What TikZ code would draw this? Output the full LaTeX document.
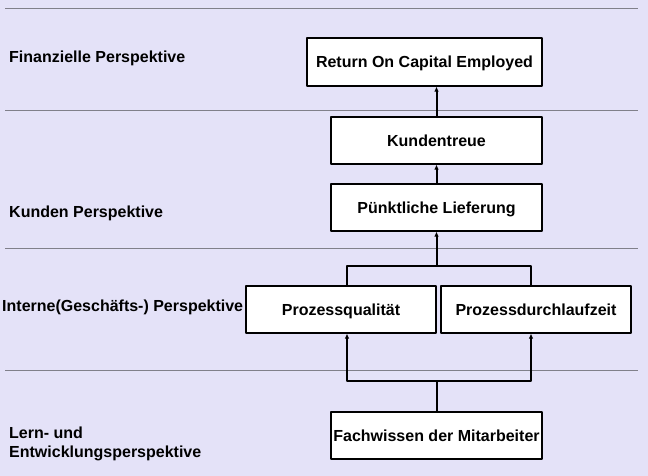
\documentclass[tikz,border=0pt]{standalone}
\usepackage{fontspec}
\setmainfont{Liberation Sans}
\usetikzlibrary{arrows.meta}
\definecolor{bglav}{RGB}{228,226,248}
\definecolor{sepgray}{RGB}{128,128,138}
\tikzset{
  ebox/.style={draw=black, line width=1.1pt, fill=white, inner sep=0pt, text height=11.5pt, text depth=0pt, minimum width=211pt, minimum height=47pt},
  conn/.style={line width=2pt, line cap=butt},
  sep/.style={sepgray, line width=0.8pt},
  plabel/.style={anchor=base west, inner sep=0pt, align=left}
}
\begin{document}
\begin{tikzpicture}[x=1pt, y=-1pt, font=\bfseries\fontsize{16}{19}\selectfont, line join=round, >={Latex[length=5pt,width=4.5pt]}]
			\fill[bglav] (0,0) rectangle (648,476);
			\useasboundingbox (0,0) rectangle (648,476);
			% Trennlinien der Perspektiven
			\foreach \y in {8,110,248,370} \draw[sep] (5,\y)--(638,\y);
			% Perspektiven
			\node[plabel] (fin) at (9,62.7) {Finanzielle Perspektive};
			\node[plabel] (kun) at (9,217.7) {Kunden Perspektive};
			\node[plabel] (int) at (2,311) {Interne(Gesch\"afts-) Perspektive};
			\node[plabel] (lern) at (9,457.3) {Lern- und\\Entwicklungsperspektive};
			% Ziele
			\node[ebox, minimum width=235pt, minimum height=48pt] (roce) at (424.5,62) {Return On Capital Employed};
			\node[ebox] (treue) at (436.5,140.5) {Kundentreue};
			\node[ebox] (liefer) at (436.5,207.5) {P\"unktliche Lieferung};
			\node[ebox, minimum width=190pt] (qual) at (341,309.5) {Prozessqualit\"at};
			\node[ebox, minimum width=190pt] (dlz) at (536,309.5) {Prozessdurchlaufzeit};
			\node[ebox] (wissen) at (436.5,435.5) {Fachwissen der Mitarbeiter};
			\coordinate (jt) at (436.5,265.5);
			\coordinate (jb) at (436.5,381);
			% Ursache-Wirkung
			\draw[conn,->] (treue.north)--(treue.north |- roce.south);
			\draw[conn,->] (liefer.north)--(treue.south);
			\draw[conn,->] (jt)--(liefer.south);
			\draw[conn] ([xshift=6pt]qual.north) |- (jt) -| ([xshift=-5pt]dlz.north);
			\draw[conn] (wissen.north)--(jb);
			\draw[conn,->] (jb) -| ([xshift=6pt]qual.south);
			\draw[conn,->] (jb) -| ([xshift=-5pt]dlz.south);
			\end{tikzpicture}
\end{document}
